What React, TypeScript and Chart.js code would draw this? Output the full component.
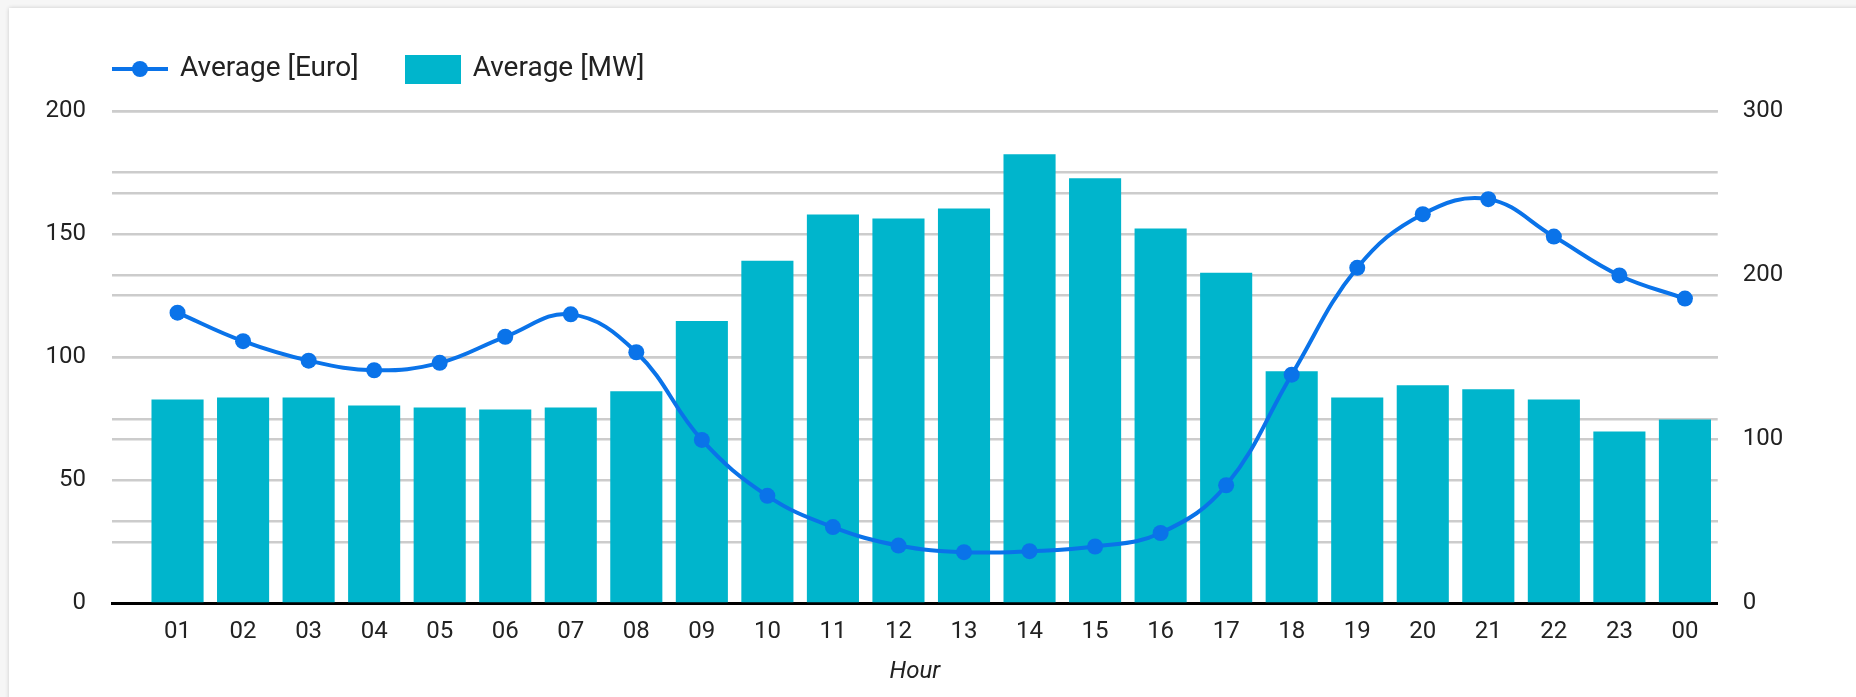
import React, { useEffect, useRef } from "react";
import { Chart, registerables } from "chart.js";

Chart.register(...registerables);

const hours = ["01","02","03","04","05","06","07","08","09","10","11","12","13","14","15","16","17","18","19","20","21","22","23","00"];
const euroValues = [118.1, 106.5, 98.6, 94.7, 97.7, 108.3, 117.4, 102.0, 66.4, 43.7, 31.0, 23.5, 20.8, 21.2, 23.1, 28.6, 48.0, 92.9, 136.3, 158.1, 164.2, 149.0, 133.2, 123.8];
const mwValues = [124.3, 125.5, 125.5, 120.6, 119.4, 118.2, 119.4, 129.2, 172.0, 208.8, 236.9, 234.5, 240.6, 273.7, 259.0, 228.4, 201.4, 141.4, 125.5, 132.9, 130.4, 124.3, 104.7, 112.0];
const seriesNames = ["Average [Euro]", "Average [MW]"];
const xTitle = "Hour";

const LINE_COLOR = "#0a73e9";
const BAR_COLOR = "#00b5cc";
const GRID_COLOR = "#cccccc";
const TEXT_COLOR = "#222222";
const FONT = "Roboto";

function makeLineMarker(): HTMLCanvasElement {
  const c = document.createElement("canvas");
  c.width = 56;
  c.height = 18;
  const g = c.getContext("2d")!;
  g.strokeStyle = LINE_COLOR;
  g.lineWidth = 4;
  g.beginPath();
  g.moveTo(0, 9);
  g.lineTo(56, 9);
  g.stroke();
  g.fillStyle = LINE_COLOR;
  g.beginPath();
  g.arc(28, 9, 8, 0, Math.PI * 2);
  g.fill();
  return c;
}

function makeBoxMarker(): HTMLCanvasElement {
  const c = document.createElement("canvas");
  c.width = 56;
  c.height = 29;
  const g = c.getContext("2d")!;
  g.fillStyle = BAR_COLOR;
  g.fillRect(0, 0, 56, 29);
  return c;
}

const legendLayoutPlugin = {
  id: "legendLayout",
  beforeLayout(chart: any) {
    const lg = chart.legend;
    if (lg && !lg.__patched) {
      const orig = lg.fit.bind(lg);
      lg.fit = function () {
        orig();
        this.height = 104;
      };
      lg.__patched = true;
    }
  },
  afterLayout(chart: any) {
    if (chart.legend) chart.legend.left = 66;
  },
};

export default function App() {
  const ref = useRef<HTMLCanvasElement | null>(null);

  useEffect(() => {
    if (!ref.current) return;
    const lineMarker = makeLineMarker();
    const boxMarker = makeBoxMarker();
    const chart = new Chart(ref.current, {
      type: "bar",
      data: {
        datasets: [
          {
            type: "line",
            label: seriesNames[0],
            data: euroValues.map((v, i) => ({ x: i + 1, y: v })),
            yAxisID: "yL",
            borderColor: LINE_COLOR,
            backgroundColor: LINE_COLOR,
            borderWidth: 4,
            pointRadius: 8,
            pointBorderWidth: 0,
            pointBackgroundColor: LINE_COLOR,
            tension: 0.4,
            fill: false,
          } as any,
          {
            type: "bar",
            label: seriesNames[1],
            data: mwValues.map((v, i) => ({ x: i + 1, y: v })),
            yAxisID: "yR",
            backgroundColor: BAR_COLOR,
            borderWidth: 0,
            categoryPercentage: 1,
            barPercentage: 0.795,
          } as any,
        ],
      },
      options: {
        animation: false,
        responsive: false,
        events: [],
        layout: { padding: { top: 7, left: 0, right: 0, bottom: 10.2 } },
        plugins: {
          tooltip: { enabled: false },
          legend: {
            display: true,
            position: "top",
            align: "start",
            labels: {
              usePointStyle: true,
              pointStyleWidth: 52,
              padding: 48,
              color: TEXT_COLOR,
              font: { family: FONT, size: 28 },
              generateLabels: (ch: any) => {
                const base = Chart.defaults.plugins.legend.labels.generateLabels(ch);
                return base.map((it: any, i: number) => ({
                  ...it,
                  pointStyle: i === 0 ? lineMarker : boxMarker,
                  lineWidth: 0,
                }));
              },
            },
          },
        },
        scales: {
          x: {
            type: "linear",
            min: 0,
            max: 24.5,
            offset: false,
            grid: { display: false, drawTicks: false, offset: false },
            border: { display: true, color: "#000000", width: 3 },
            ticks: {
              stepSize: 1,
              autoSkip: false,
              maxRotation: 0,
              minRotation: 0,
              includeBounds: false,
              padding: 14,
              color: TEXT_COLOR,
              font: { family: FONT, size: 24 },
              callback: (value: any) => {
                const v = Number(value);
                if (Number.isInteger(v) && v >= 1 && v <= hours.length) return hours[v - 1];
                return "";
              },
            },
            title: {
              display: true,
              text: xTitle,
              color: TEXT_COLOR,
              font: { family: FONT, size: 24, style: "italic" },
              padding: { top: -2.2, bottom: 0 },
            },
          },
          yL: {
            type: "linear",
            position: "left",
            min: 0,
            max: 200,
            border: { display: false },
            grid: {
              drawTicks: false,
              lineWidth: 2.5,
              color: (c: any) => (c.tick && c.tick.value === 0 ? "rgba(0,0,0,0)" : GRID_COLOR),
            },
            ticks: {
              stepSize: 25,
              autoSkip: false,
              padding: 26,
              color: TEXT_COLOR,
              font: { family: FONT, size: 24 },
              callback: (value: any) => (Number(value) % 50 === 0 ? String(value) : ""),
            },
            afterFit: (s: any) => {
              s.width = 112;
            },
          },
          yR: {
            type: "linear",
            position: "right",
            min: 0,
            max: 300,
            border: { display: false },
            grid: {
              drawTicks: false,
              lineWidth: 2.5,
              drawOnChartArea: true,
              color: (c: any) => (c.tick && c.tick.value === 0 ? "rgba(0,0,0,0)" : GRID_COLOR),
            },
            ticks: {
              stepSize: 50,
              autoSkip: false,
              padding: 25,
              color: TEXT_COLOR,
              font: { family: FONT, size: 24 },
              callback: (value: any) => (Number(value) % 100 === 0 ? String(value) : ""),
            },
            afterFit: (s: any) => {
              s.width = 138.3;
            },
          },
        },
      } as any,
      plugins: [legendLayoutPlugin],
    });
    return () => chart.destroy();
  }, []);

  return (
    <div style={{ position: "fixed", left: 0, top: 0, width: 1856, height: 697, background: "#f6f6f6", overflow: "hidden" }}>
      <div
        style={{
          position: "absolute",
          left: 9,
          top: 8,
          width: 1900,
          height: 750,
          background: "#ffffff",
          boxShadow: "0 0 4px rgba(0,0,0,0.18)",
        }}
      />
      <canvas
        ref={ref}
        width={1856}
        height={697}
        style={{ position: "absolute", left: 0, top: 0, width: 1856, height: 697 }}
      />
    </div>
  );
}
